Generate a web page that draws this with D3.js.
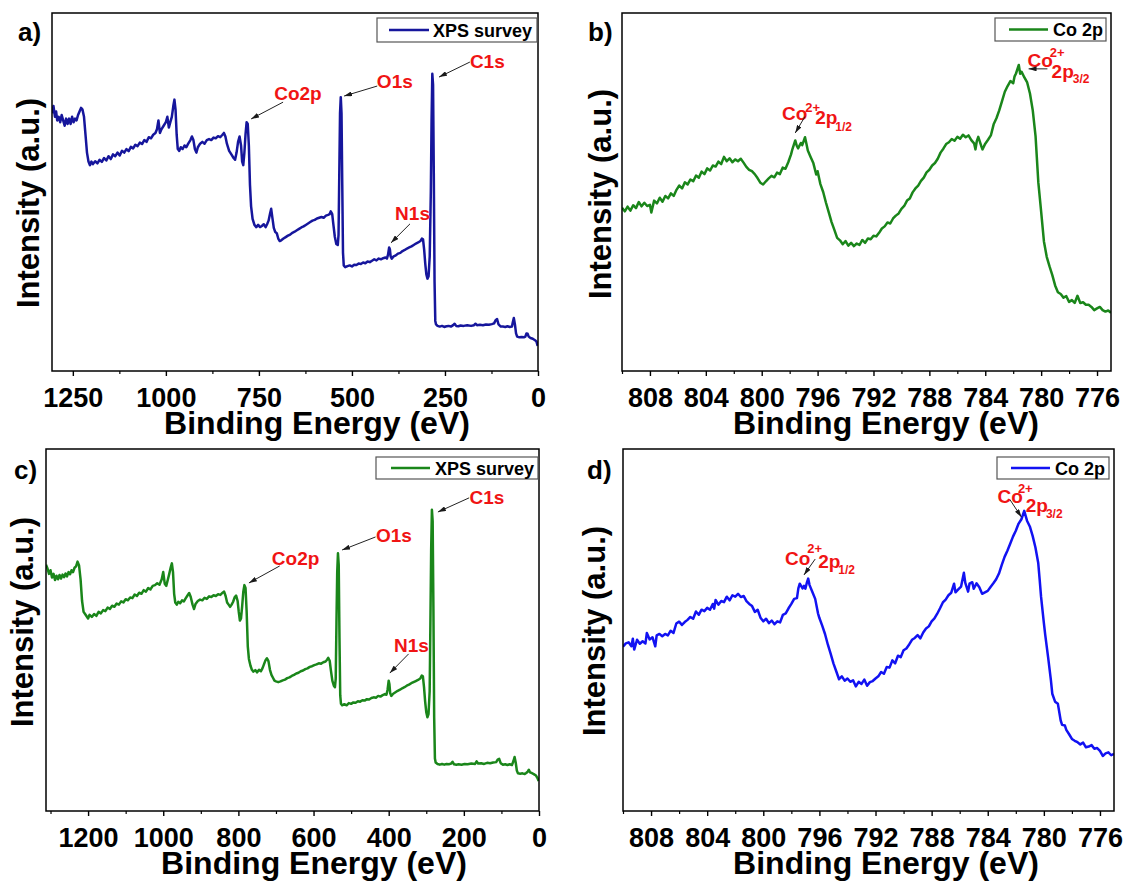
<!DOCTYPE html>
<html>
<head>
<meta charset="utf-8">
<script src="https://cdn.jsdelivr.net/npm/d3@7"></script>
<style>
  body { margin: 0; background: #fff; }
  svg { display: block; }
  text { font-family: "Liberation Sans", Arial, sans-serif; font-weight: bold; }
</style>
</head>
<body>
<svg id="fig" width="1128" height="881"></svg>
<script>
// ---- Spectra: [binding energy (eV), intensity (a.u., 0-100 of frame)] ----
const surveyA = [
[1306,72],[1302,74],[1298,71],[1295,72.5],[1292,70],[1288,71],[1284,69.5],[1280,71.5],[1276,70],[1272,68.5],
[1268,70.5],[1264,69],[1260,70.5],[1256,69],[1252,71],[1248,69.5],[1244,70.5],[1240,70],[1236,71.5],[1232,72.5],
[1228,73.5],[1224,73],[1220,71],[1216,66],[1212,61],[1208,58.5],[1204,57.5],[1200,58.5],[1196,57.8],[1190,58.6],
[1184,58],[1178,59],[1172,58.4],[1166,59.5],[1160,58.8],[1154,60],[1148,59.2],[1142,60.5],[1136,60],[1130,61],
[1124,60.2],[1118,61.5],[1112,61],[1106,62],[1100,61.4],[1094,62.6],[1088,62.2],[1082,63.2],[1076,62.8],[1070,63.8],
[1064,63.4],[1058,64.5],[1052,64],[1046,65.3],[1040,65],[1034,66],[1028,66.5],[1024,67.5],[1020,70],[1016,66.5],
[1012,67.5],[1006,68.5],[1000,69.5],[996,71],[992,68],[988,69.5],[984,71],[980,74],[977,75.8],[974,73],
[971,66],[968,62],[964,61.5],[960,62.5],[955,62],[950,63],[945,62.5],[940,63.5],[934,64.5],[930,65.5],
[926,64.5],[922,62],[918,61],[914,62.5],[908,63.5],[902,64],[896,63.5],[890,64.5],[884,64.8],[878,64.5],
[872,65.2],[866,65],[860,65.6],[854,65.3],[848,66],[844,66.5],[840,65.5],[836,63.5],[830,61.5],[824,60.5],
[818,59.5],[814,59],[810,61],[806,64],[802,65.5],[798,63],[795,58.5],[792,57.5],[789,61],[786,66],
[783,69.5],[780,69],[777,63],[774,52],[771,46],[767,42.5],[762,40.8],[757,40.2],[752,40.8],[747,40.2],
[742,40.5],[737,41],[732,40.2],[728,41],[724,42],[720,44],[717,45.3],[714,43],[710,40],[706,38.8],
[702,38.5],[698,37],[694,36.3],[690,36.5],[684,37],[678,37.4],[672,37.8],[666,38.1],[660,38.6],[654,38.9],
[648,39.3],[642,39.7],[636,40.1],[630,40.4],[624,40.8],[618,41.2],[612,41.6],[606,42],[600,42.2],[594,42.6],
[588,42.8],[582,43],[576,42.8],[570,43.4],[564,43.6],[560,43.8],[557,44.6],[553,43.8],[550,41],[546,37.5],
[542,35.5],[538,35.2],[536,38],[534,55],[532,72],[530,76.5],[528,72],[526,52],[524,33],[522,29.5],
[518,29],[512,29.3],[506,29.5],[500,29.2],[494,29.7],[488,29.6],[482,30],[476,29.9],[470,30.3],[464,30.1],
[458,30.6],[452,30.4],[446,30.8],[440,31.2],[434,30.9],[428,31.4],[422,31.2],[416,31.5],[410,31.7],[406,31.4],
[403,32.5],[400,34.5],[398,34],[396,32],[393,31.4],[388,32],[382,32.3],[376,32.8],[370,33],[364,33.5],
[358,33.8],[352,34.2],[346,34.5],[340,34.8],[334,35.2],[328,35.6],[322,35.9],[316,36.3],[312,37],[309,36.8],
[306,34],[303,30],[300,27],[297,25.8],[294,26.5],[291,32],[288,50],[286,70],[284,83],[282,80],
[280,55],[278,25],[276,14],[274,13],[270,12.6],[264,12.4],[258,12.6],[252,12.3],[246,12.5],[240,12.6],
[234,12.4],[228,12.8],[224,13.2],[220,12.6],[214,12.5],[208,12.7],[200,12.6],[190,12.8],[180,12.6],[172,12.8],
[168,13.2],[164,12.8],[156,12.9],[148,12.8],[140,13],[132,12.9],[124,13.1],[118,13.3],[114,14.2],[110,14.5],
[106,13],[100,12.4],[94,12.4],[88,12.3],[82,12.5],[76,12.3],[70,12.4],[68,13.5],[65,14.8],[62,13],
[59,10.5],[56,9.6],[50,9.4],[44,9.5],[38,9.4],[34,9.6],[31,10.5],[28,10.4],[25,9.6],[20,9.2],
[14,9],[8,8.6],[4,8.2],[1,7]
];

const co2pB = [
[810.0,45.6],[809.8,44.6],[809.6,45.9],[809.4,44.8],[809.2,46.3],[809.0,45.5],[808.8,47.2],[808.6,46.0],[808.4,47.0],[808.2,46.1],
[808.0,46.4],[807.9,44.3],[807.7,47.6],[807.5,46.8],[807.3,48.4],[807.1,47.3],[806.9,48.9],[806.7,48.2],[806.5,49.6],[806.3,48.9],
[806.1,50.6],[805.9,51.8],[805.7,51.0],[805.5,52.7],[805.3,52.1],[805.1,53.5],[804.9,53.0],[804.7,54.6],[804.5,54.0],[804.3,55.7],
[804.1,55.0],[803.9,56.6],[803.7,56.0],[803.5,57.4],[803.3,57.1],[803.1,58.5],[802.9,57.8],[802.7,59.8],[802.5,58.6],[802.3,59.4],
[802.1,58.3],[801.9,59.1],[801.7,58.6],[801.5,59.3],[801.3,58.2],[801.1,57.0],[800.9,56.2],[800.7,55.8],[800.5,55.0],[800.3,53.9],
[800.1,52.6],[799.9,52.1],[799.7,53.0],[799.5,53.8],[799.3,54.5],[799.1,54.1],[798.9,55.4],[798.7,55.0],[798.5,56.8],[798.3,56.5],
[798.1,58.3],[797.9,60.5],[797.8,62.0],[797.6,64.4],[797.5,63.0],[797.4,62.2],[797.2,63.7],[797.1,63.1],[796.9,65.3],[796.8,63.5],
[796.7,61.6],[796.5,59.8],[796.3,58.0],[796.1,54.9],[796.0,55.8],[795.8,52.2],[795.6,50.0],[795.4,47.0],[795.2,44.3],[795.0,41.6],
[794.8,39.4],[794.6,37.2],[794.4,36.5],[794.2,35.4],[794.0,36.3],[793.8,35.0],[793.6,35.8],[793.4,34.9],[793.2,35.6],[793.0,35.2],
[792.8,36.6],[792.6,35.8],[792.4,37.0],[792.2,36.8],[792.0,37.8],[791.8,37.6],[791.6,38.6],[791.4,39.8],[791.2,40.4],[791.0,41.5],
[790.8,41.2],[790.6,42.6],[790.4,43.4],[790.2,44.0],[790.0,45.3],[789.8,46.1],[789.6,47.6],[789.4,48.2],[789.2,49.9],[789.0,51.0],
[788.8,51.8],[788.6,53.1],[788.4,54.0],[788.2,55.5],[788.0,56.2],[787.8,57.4],[787.6,58.1],[787.4,59.3],[787.2,61.0],[787.0,62.1],
[786.8,63.4],[786.6,63.9],[786.4,64.8],[786.2,64.3],[786.0,65.4],[785.8,64.9],[785.6,66.0],[785.4,65.3],[785.2,65.8],[785.0,64.5],
[784.8,63.6],[784.7,61.9],[784.6,64.3],[784.5,65.4],[784.3,63.0],[784.2,61.9],[784.0,63.5],[783.8,64.6],[783.6,65.8],[783.4,68.9],
[783.2,70.6],[783.0,72.8],[782.8,75.4],[782.6,78.0],[782.4,79.6],[782.2,81.0],[782.0,80.4],[781.9,82.3],[781.8,83.1],[781.6,85.5],
[781.5,83.0],[781.4,83.6],[781.2,82.0],[781.0,80.6],[780.8,77.5],[780.6,72.8],[780.4,65.6],[780.2,52.6],[780.0,44.5],[779.8,36.2],
[779.6,31.9],[779.4,29.2],[779.2,26.8],[779.0,23.9],[778.8,22.0],[778.6,21.5],[778.4,20.5],[778.2,20.9],[778.0,19.3],[777.8,19.8],
[777.6,19.0],[777.4,21.0],[777.2,19.0],[777.0,19.2],[776.8,18.5],[776.6,18.5],[776.4,17.9],[776.2,17.0],[776.0,17.5],[775.8,17.9],
[775.6,17.0],[775.4,16.6],[775.2,16.9],[775.0,16.3]
];

const surveyC = [
[1312,68],[1308,67],[1304,65.5],[1300,66.5],[1296,64.5],[1292,65.5],[1288,63.8],[1284,65],[1280,64],[1276,65.2],
[1272,64.2],[1268,65.3],[1264,64.6],[1260,65.6],[1256,64.8],[1252,66],[1248,65.4],[1244,66.5],[1240,66],[1236,67.2],
[1232,67.6],[1228,68.9],[1224,67.8],[1220,64],[1216,58],[1212,55],[1208,54.4],[1204,53.8],[1200,53.2],[1196,54.2],
[1190,53.6],[1184,54.4],[1178,53.9],[1172,55],[1166,54.6],[1160,55.5],[1154,55.2],[1148,56.2],[1142,55.8],[1136,56.7],
[1130,56.4],[1124,57.3],[1118,57],[1112,57.9],[1106,57.6],[1100,58.5],[1094,58.2],[1088,59],[1082,58.8],[1076,59.8],
[1070,59.4],[1064,60.3],[1058,60],[1052,61],[1046,60.6],[1040,61.6],[1034,61.2],[1028,62.2],[1022,62.4],[1016,62.9],
[1010,62.5],[1004,64],[1000,66],[996,62.8],[992,62.2],[988,63.8],[984,65.5],[980,67.3],[977,68.4],[974,66],
[971,60],[968,57.6],[964,57],[960,57.8],[955,57.4],[950,58.2],[945,57.9],[940,58.8],[935,59.6],[931,60.2],
[927,59.2],[922,57],[918,55.8],[914,57.2],[908,58],[902,58.4],[896,58.2],[890,58.9],[884,58.6],[878,59.3],
[872,59.1],[866,59.6],[860,59.4],[854,59.9],[848,59.7],[842,60.3],[838,60.6],[834,59.4],[830,57.6],[826,57],
[822,56.4],[818,57],[814,57.8],[810,59],[806,59.5],[802,58],[799,55],[796,52.6],[793,53.2],[790,56.5],
[787,60.5],[784,62.4],[781,61.6],[778,55],[775,45.5],[772,42],[768,40.2],[764,39],[760,38.5],[755,38.9],
[750,38.3],[745,39],[740,38.6],[736,39.4],[732,40.5],[728,41.6],[724,42.2],[720,41.4],[716,39],[712,37.6],
[708,36.8],[704,36],[700,35.8],[694,35.6],[688,35.8],[682,36.1],[676,36.3],[670,36.7],[664,36.9],[658,37.3],
[652,37.6],[646,38],[640,38.2],[634,38.6],[628,38.8],[622,39.2],[616,39.4],[610,39.8],[604,40],[598,40.3],
[592,40.5],[586,40.8],[580,40.7],[574,41.1],[568,41.3],[564,41.8],[561,42.3],[557,41.5],[554,39],[550,36],
[546,34.6],[543,34.2],[541,36.5],[539,52],[537,66],[535,71.2],[533,68],[531,48],[529,32],[527,29.6],
[524,29.2],[518,29.5],[512,29.2],[506,29.8],[500,29.6],[494,30],[488,29.9],[482,30.3],[476,30.2],[470,30.6],
[464,30.5],[458,30.9],[452,30.8],[446,31.2],[440,31.4],[434,31.3],[428,31.8],[422,31.6],[416,32],[410,32.3],
[406,32.1],[403,33.5],[400,36],[398,35],[396,32.5],[393,31.8],[388,32.4],[382,32.8],[376,33.2],[370,33.5],
[364,33.9],[358,34.2],[352,34.6],[346,34.9],[340,35.3],[334,35.6],[328,35.9],[322,36.2],[316,36.6],[312,37.4],
[309,37.2],[306,34.2],[303,30.2],[300,27.3],[297,25.9],[294,26.8],[291,33],[289,52],[287,72],[285,83.2],
[283,80],[281,56],[279,26],[277,14.5],[275,13.4],[270,13],[264,12.8],[258,13],[252,12.8],[246,13],
[240,12.9],[234,13.1],[230,13.6],[226,12.9],[220,12.8],[214,12.9],[206,12.8],[198,13],[190,12.9],[180,13.1],
[170,13],[166,13.7],[162,13.1],[154,13.2],[146,13],[138,13.3],[130,13.2],[122,13.4],[114,13.5],[110,14.2],
[106,14.4],[102,13.2],[96,12.8],[90,12.9],[84,12.7],[78,12.9],[72,12.7],[68,13.8],[65,14.9],[62,13.4],
[59,11.2],[56,10.4],[50,10.3],[44,10.4],[38,10.2],[34,10.5],[30,10.9],[27,11.4],[24,10.7],[20,10.5],
[14,10.2],[8,9.8],[4,9.1],[1,8.3]
];

const co2pD = [
[810.0,45.4],[809.8,46.3],[809.6,46.6],[809.4,45.5],[809.3,47.6],[809.2,44.6],[809.0,47.3],[808.8,46.2],[808.6,46.9],[808.4,46.3],
[808.3,49.2],[808.1,47.4],[807.9,48.0],[807.7,45.5],[807.6,48.5],[807.4,48.9],[807.2,48.3],[807.0,48.9],[806.8,48.5],[806.6,49.8],
[806.4,49.2],[806.2,51.8],[806.0,52.3],[805.8,51.4],[805.6,52.2],[805.4,52.8],[805.2,53.6],[805.0,53.1],[804.8,55.1],[804.6,54.2],
[804.4,55.6],[804.2,55.2],[804.0,56.1],[803.8,55.6],[803.6,57.2],[803.5,55.9],[803.4,58.3],[803.2,57.0],[803.0,58.0],[802.8,57.7],
[802.6,59.2],[802.4,58.2],[802.2,59.6],[802.0,59.2],[801.8,60.0],[801.6,59.1],[801.4,59.4],[801.2,58.0],[801.0,57.2],[800.8,56.6],
[800.6,55.0],[800.4,55.6],[800.2,53.4],[800.0,52.4],[799.8,53.1],[799.6,51.9],[799.4,52.6],[799.2,51.6],[799.0,52.4],[798.8,52.1],
[798.6,54.2],[798.4,54.6],[798.2,56.0],[798.0,57.2],[797.8,58.6],[797.6,58.8],[797.5,61.5],[797.4,62.8],[797.2,61.5],[797.1,62.2],
[797.0,61.4],[796.9,63.0],[796.8,64.2],[796.7,62.4],[796.5,60.5],[796.3,58.6],[796.1,54.6],[796.0,53.3],[795.8,51.2],[795.6,48.9],
[795.4,46.0],[795.2,43.5],[795.0,40.8],[794.8,38.6],[794.6,36.4],[794.4,37.2],[794.2,36.0],[794.0,36.6],[793.8,35.7],[793.6,36.1],
[793.4,34.4],[793.2,35.7],[793.0,35.1],[792.8,36.3],[792.6,34.6],[792.4,35.6],[792.2,35.9],[792.0,36.6],[791.8,37.2],[791.6,38.4],
[791.4,37.9],[791.2,39.8],[791.0,39.6],[790.8,41.6],[790.6,40.8],[790.4,42.9],[790.2,42.5],[790.0,44.4],[789.8,44.9],[789.6,46.0],
[789.4,47.3],[789.2,47.8],[789.0,48.6],[788.8,47.7],[788.6,49.3],[788.4,50.4],[788.2,51.0],[788.0,52.4],[787.8,53.2],[787.6,54.5],
[787.4,56.0],[787.2,57.6],[787.0,58.4],[786.8,59.6],[786.6,60.3],[786.4,62.8],[786.3,60.4],[786.1,61.2],[785.9,62.0],[785.7,65.8],
[785.6,63.0],[785.4,60.6],[785.3,62.8],[785.1,63.2],[785.0,61.4],[784.8,62.9],[784.6,61.8],[784.4,60.0],[784.2,60.4],[784.0,60.8],
[783.8,61.9],[783.6,62.9],[783.4,64.0],[783.2,65.6],[783.0,68.0],[782.8,70.2],[782.6,71.9],[782.4,73.8],[782.2,75.8],[782.0,77.4],
[781.8,79.4],[781.6,80.6],[781.4,82.9],[781.2,80.2],[781.0,78.6],[780.8,76.0],[780.6,72.8],[780.4,68.5],[780.3,64.0],[780.2,59.2],
[780.0,52.0],[779.9,48.6],[779.7,42.6],[779.5,36.2],[779.4,32.4],[779.2,30.2],[779.0,29.6],[778.8,25.0],[778.7,23.8],[778.5,23.6],
[778.4,22.4],[778.2,21.2],[778.0,19.9],[777.8,19.4],[777.6,19.0],[777.4,18.4],[777.2,18.9],[777.0,17.6],[776.8,17.8],[776.6,18.2],
[776.4,17.2],[776.2,17.4],[776.0,16.6],[775.8,15.2],[775.6,15.9],[775.4,16.2],[775.2,15.4],[775.0,15.8]
];

// ---- Axis ticks ----
const surveyTicksA = [1250, 1000, 750, 500, 250, 0];
const surveyMinorA = [1125, 875, 625, 375, 125];
const surveyTicksC = [1200, 1000, 800, 600, 400, 200, 0];
const surveyMinorC = [1300, 1100, 900, 700, 500, 300, 100];
const co2pTicks = [808, 804, 800, 796, 792, 788, 784, 780, 776];
const co2pMinor = [810, 806, 802, 798, 794, 790, 786, 782, 778];

// ---- Peak annotations ----
const surveyPeakNames = ["Co2p", "O1s", "C1s", "N1s"];
const co2pPeakSubs = ["1/2", "3/2"];

const RED = "#f01414";
const svg = d3.select("#fig");

const defs = svg.append("defs");
defs.append("marker")
  .attr("id", "head")
  .attr("viewBox", "0 0 10 6")
  .attr("refX", 10).attr("refY", 3)
  .attr("markerWidth", 8).attr("markerHeight", 5)
  .attr("markerUnits", "userSpaceOnUse")
  .attr("preserveAspectRatio", "none")
  .attr("orient", "auto")
  .append("path").attr("d", "M0,0L10,3L0,6Z").attr("fill", "#1a1a1a");

// Panel layout and annotation placement (energy / intensity coordinates)
const panels = [
  {
    id: "a", data: surveyA, color: "#16169c", legend: "XPS survey",
    box: { l: 52, t: 13, r: 538, b: 371 }, xDomain: [1306, 0],
    ticks: surveyTicksA, minor: surveyMinorA,
    tag: [18, 41], yTitle: [39, 203], xTitleX: 317,
    legendBox: { l: 377, t: 18, r: 537, b: 42, line: [389, 429], text: 433 },
    notes: [
      { name: surveyPeakNames[0], at: [709, 75.7], from: [685, 75.1], to: [771, 70.4] },
      { name: surveyPeakNames[1], at: [433, 79.0], from: [432, 79.6], to: [521, 76.8] },
      { name: surveyPeakNames[2], at: [183, 84.6], from: [183, 86.3], to: [266, 82.1] },
      { name: surveyPeakNames[3], at: [384, 42.2], from: [344, 41.1], to: [395, 35.8] }
    ]
  },
  {
    id: "b", data: co2pB, color: "#1a861a", legend: "Co 2p",
    box: { l: 622, t: 13, r: 1111, b: 371 }, xDomain: [810, 775],
    ticks: co2pTicks, minor: co2pMinor,
    tag: [588, 41], yTitle: [611, 194], xTitleX: 886,
    legendBox: { l: 995, t: 18, r: 1106, b: 41, line: [1009, 1048], text: 1053 },
    co: [
      { sub: co2pPeakSubs[0], at: [798.55, 70.1], from: [796.9, 71.1], to: [797.6, 66.5],
        sup: [-2, -8], main: [-5, 12], subOff: [-2, 7] },
      { sub: co2pPeakSubs[1], at: [780.98, 84.9], from: [779.55, 84.4], to: [780.9, 84.4],
        sup: [-3, -10], main: [-13, 21], subOff: [-1, 5] }
    ]
  },
  {
    id: "c", data: surveyC, color: "#1a861a", legend: "XPS survey",
    box: { l: 46, t: 449, r: 539, b: 811 }, xDomain: [1312, 0],
    ticks: surveyTicksC, minor: surveyMinorC,
    tag: [14, 479], yTitle: [33, 622], xTitleX: 314,
    legendBox: { l: 376, t: 457, r: 538, b: 479, line: [391, 430], text: 435 },
    notes: [
      { name: surveyPeakNames[0], at: [711, 68.0], from: [690, 67.7], to: [772, 63.0] },
      { name: surveyPeakNames[1], at: [434, 74.4], from: [435, 75.7], to: [524, 72.1] },
      { name: surveyPeakNames[2], at: [185, 84.8], from: [186, 86.5], to: [269, 82.6] },
      { name: surveyPeakNames[3], at: [386, 44.0], from: [347, 43.4], to: [397, 38.1] }
    ]
  },
  {
    id: "d", data: co2pD, color: "#1212f2", legend: "Co 2p",
    box: { l: 623, t: 449, r: 1114, b: 811 }, xDomain: [810, 775],
    ticks: co2pTicks, minor: co2pMinor,
    tag: [587, 479], yTitle: [605, 631], xTitleX: 886,
    legendBox: { l: 997, t: 457, r: 1109, b: 479, line: [1011, 1050], text: 1055 },
    co: [
      { sub: co2pPeakSubs[0], at: [798.45, 68.0], from: [796.3, 69.6], to: [797.1, 65.2],
        sup: [-3, -12], main: [-4, 15], subOff: [-2, 6] },
      { sub: co2pPeakSubs[1], at: [783.3, 85.1], from: [782.4, 85.9], to: [781.6, 81.2],
        sup: [-5, -10], main: [-7, 19], subOff: [-2, 6] }
    ]
  }
];

function drawPanel(p) {
  const g = svg.append("g").attr("class", "panel-" + p.id);
  const x = d3.scaleLinear().domain(p.xDomain).range([p.box.l, p.box.r]);
  const y = d3.scaleLinear().domain([0, 100]).range([p.box.b, p.box.t]);

  defs.append("clipPath").attr("id", "clip-" + p.id)
    .append("rect")
    .attr("x", p.box.l).attr("y", p.box.t)
    .attr("width", p.box.r - p.box.l).attr("height", p.box.b - p.box.t);

  // spectrum
  g.append("path")
    .datum(p.data)
    .attr("clip-path", `url(#clip-${p.id})`)
    .attr("fill", "none")
    .attr("stroke", p.color)
    .attr("stroke-width", 2.5)
    .attr("stroke-linejoin", "round")
    .attr("d", d3.line().x(d => x(d[0])).y(d => y(d[1])));

  // bottom axis: major and minor ticks
  const major = g.append("g")
    .attr("transform", `translate(0,${p.box.b})`)
    .call(d3.axisBottom(x).tickValues(p.ticks).tickSize(5).tickSizeOuter(0)
      .tickPadding(12).tickFormat(d3.format("d")));
  major.select(".domain").remove();
  major.selectAll(".tick line").attr("stroke", "#000").attr("stroke-width", 1.4);
  major.selectAll(".tick text")
    .attr("fill", "#000")
    .style("font-size", "27px")
    .style("font-family", '"Liberation Sans", Arial, sans-serif')
    .style("font-weight", "bold");

  const minor = g.append("g")
    .attr("transform", `translate(0,${p.box.b})`)
    .call(d3.axisBottom(x).tickValues(p.minor).tickSize(3).tickSizeOuter(0).tickFormat(""));
  minor.select(".domain").remove();
  minor.selectAll(".tick line").attr("stroke", "#000").attr("stroke-width", 1.2);

  // frame
  g.append("rect")
    .attr("x", p.box.l).attr("y", p.box.t)
    .attr("width", p.box.r - p.box.l).attr("height", p.box.b - p.box.t)
    .attr("fill", "none").attr("stroke", "#000").attr("stroke-width", 1.5);

  // axis titles
  g.append("text")
    .attr("x", p.xTitleX).attr("y", p.box.b + 63)
    .attr("text-anchor", "middle")
    .style("font-size", "32px")
    .text("Binding Energy (eV)");

  g.append("text")
    .attr("transform", `translate(${p.yTitle[0]},${p.yTitle[1]}) rotate(-90)`)
    .attr("text-anchor", "middle")
    .style("font-size", "31px")
    .text("Intensity (a.u.)");

  // panel tag
  g.append("text")
    .attr("x", p.tag[0]).attr("y", p.tag[1])
    .style("font-size", "26px")
    .text(p.id + ")");

  // legend
  const lb = p.legendBox;
  g.append("rect")
    .attr("x", lb.l).attr("y", lb.t)
    .attr("width", lb.r - lb.l).attr("height", lb.b - lb.t)
    .attr("fill", "#fff").attr("stroke", "#555").attr("stroke-width", 1.2);
  const ly = (lb.t + lb.b) / 2;
  g.append("line")
    .attr("x1", lb.line[0]).attr("x2", lb.line[1])
    .attr("y1", ly).attr("y2", ly)
    .attr("stroke", p.color).attr("stroke-width", 2.3);
  g.append("text")
    .attr("x", lb.text).attr("y", ly + 6.5)
    .style("font-size", "18px")
    .text(p.legend);

  // survey peak labels
  (p.notes || []).forEach(n => {
    g.append("line")
      .attr("x1", x(n.from[0])).attr("y1", y(n.from[1]))
      .attr("x2", x(n.to[0])).attr("y2", y(n.to[1]))
      .attr("stroke", "#222").attr("stroke-width", 1)
      .attr("marker-end", "url(#head)");
    g.append("text")
      .attr("x", x(n.at[0])).attr("y", y(n.at[1]))
      .attr("fill", RED)
      .style("font-size", "19px")
      .text(n.name);
  });

  // Co2+ 2p labels
  (p.co || []).forEach(c => {
    const t = g.append("text")
      .attr("x", x(c.at[0])).attr("y", y(c.at[1]))
      .attr("fill", RED)
      .style("font-size", "19px");
    t.append("tspan").text("Co");
    t.append("tspan").attr("dx", c.sup[0]).attr("dy", c.sup[1])
      .style("font-size", "13px").text("2+");
    t.append("tspan").attr("dx", c.main[0]).attr("dy", c.main[1]).text("2p");
    t.append("tspan").attr("dx", c.subOff[0]).attr("dy", c.subOff[1])
      .style("font-size", "12px").text(c.sub);
    g.append("line")
      .attr("x1", x(c.from[0])).attr("y1", y(c.from[1]))
      .attr("x2", x(c.to[0])).attr("y2", y(c.to[1]))
      .attr("stroke", "#222").attr("stroke-width", 1)
      .attr("marker-end", "url(#head)");
  });
}

panels.forEach(drawPanel);
</script>
</body>
</html>
